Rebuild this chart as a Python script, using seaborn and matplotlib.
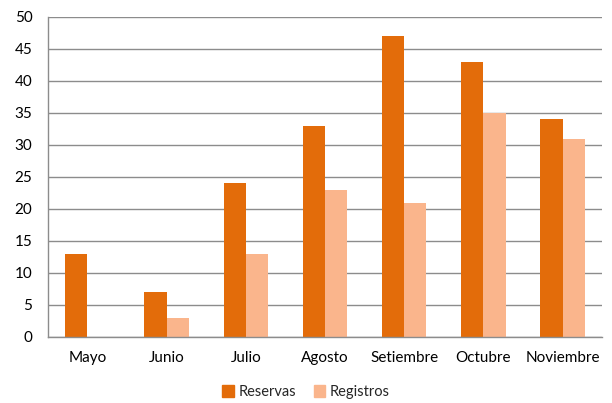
import numpy as np
import pandas as pd
import seaborn as sns
import matplotlib.pyplot as plt
from matplotlib.patches import Patch

meses = ["Mayo", "Junio", "Julio", "Agosto", "Setiembre", "Octubre", "Noviembre"]
reservas = [13, 7, 24, 33, 47, 43, 34]
registros = [0, 3, 13, 23, 21, 35, 31]
colores = {"Reservas": "#E36C0A", "Registros": "#FAB58C"}

df = pd.DataFrame({
    "Mes": meses * 2,
    "Valor": reservas + registros,
    "Serie": ["Reservas"] * len(meses) + ["Registros"] * len(meses),
})

sns.set_style("white")
plt.rcParams["font.family"] = ["Lato", "DejaVu Sans"]

fig = plt.figure(figsize=(6.12, 4.03), dpi=100)
ax = fig.add_axes([0.078, 0.164, 0.906, 0.794])

sns.barplot(data=df, x="Mes", y="Valor", hue="Serie", palette=colores,
            order=meses, hue_order=["Reservas", "Registros"],
            width=0.56, saturation=1, linewidth=0, ax=ax, legend=False)

ax.set_ylim(0, 50)
ax.set_xlim(-0.5, len(meses) - 0.5)
ax.set_yticks(range(0, 51, 5))
ax.yaxis.grid(True, color="#8c8c8c", linewidth=1)
ax.set_axisbelow(True)
ax.set_xlabel("")
ax.set_ylabel("")

for s in ["top", "right"]:
    ax.spines[s].set_visible(False)
for s in ["left", "bottom"]:
    ax.spines[s].set_color("#8c8c8c")
    ax.spines[s].set_linewidth(1)

# ticks at category boundaries
ax.set_xticks(np.arange(-0.5, len(meses), 1), minor=False)
ax.set_xticklabels([])
ax.set_xticks(np.arange(len(meses)), minor=True)
ax.set_xticklabels(meses, minor=True)
ax.tick_params(axis="x", which="major", direction="out", length=5, color="#8c8c8c")
ax.tick_params(axis="x", which="minor", length=0, pad=10, labelsize=11)
ax.tick_params(axis="y", direction="out", length=5, color="#8c8c8c", labelsize=11, pad=6)
for lbl in ax.get_xticklabels(minor=True) + ax.get_yticklabels():
    lbl.set_color("black")

handles = [Patch(color=colores[k], label=k) for k in ["Reservas", "Registros"]]
fig.legend(handles=handles, loc="center", bbox_to_anchor=(0.5, 0.027), ncol=2,
           frameon=False, fontsize=10.5, handlelength=0.8, handleheight=0.8,
           handletextpad=0.3, columnspacing=1.2)

fig.savefig("out.png", dpi=100)
